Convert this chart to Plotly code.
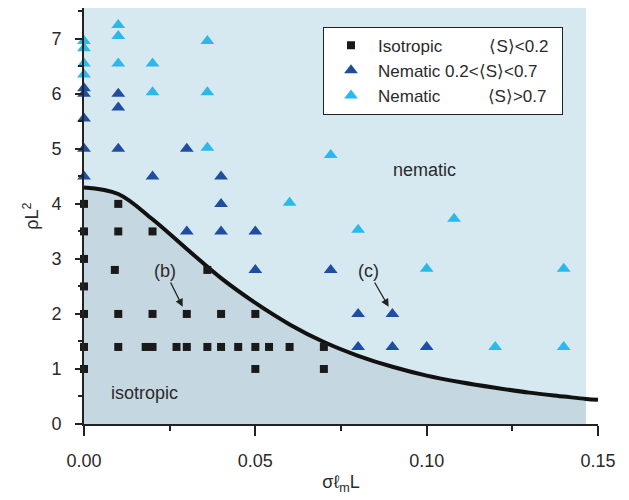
import plotly.graph_objects as go

# ---- data ----
iso_x = [0, 0, 0, 0, 0, 0, 0,
         0.01, 0.01, 0.01, 0.01, 0.009,
         0.02, 0.02, 0.02, 0.018,
         0.027, 0.03, 0.03,
         0.036, 0.036,
         0.04, 0.04, 0.045,
         0.05, 0.05, 0.05, 0.054, 0.06, 0.07, 0.07]
iso_y = [4, 3.5, 3, 2.5, 2, 1.4, 1,
         4, 3.5, 2, 1.4, 2.8,
         3.5, 2, 1.4, 1.4,
         1.4, 2, 1.4,
         2.8, 1.4,
         2, 1.4, 1.4,
         2, 1.4, 1, 1.4, 1.4, 1.4, 1]

nem_mid_x = [0, 0, 0, 0, 0,
             0.01, 0.01, 0.01,
             0.02, 0.03, 0.03,
             0.04, 0.04, 0.04,
             0.05, 0.05,
             0.072, 0.08, 0.08, 0.09, 0.09, 0.10]
nem_mid_y = [6.1, 6.0, 5.55, 5.0, 4.5,
             6.0, 5.75, 5.0,
             4.5, 5.0, 3.5,
             4.5, 4.0, 3.5,
             3.5, 2.8,
             2.8, 2.0, 1.4, 2.0, 1.4, 1.4]

nem_hi_x = [0, 0, 0, 0,
            0.01, 0.01, 0.01,
            0.02, 0.02,
            0.036, 0.036, 0.036,
            0.06, 0.072, 0.08, 0.10, 0.108, 0.12, 0.14, 0.14]
nem_hi_y = [6.96, 6.83, 6.55, 6.35,
            7.25, 7.05, 6.55,
            6.55, 6.03,
            6.96, 6.03, 5.02,
            4.02, 4.89, 3.53, 2.82, 3.73, 1.4, 2.82, 1.4]

# boundary curve
curve_x = [0, 0.01, 0.02, 0.03, 0.04, 0.05, 0.06, 0.07, 0.08,
           0.09, 0.10, 0.11, 0.12, 0.13, 0.14, 0.1465, 0.15]
curve_y = [4.3, 4.18, 3.72, 3.18, 2.65, 2.2, 1.81, 1.49, 1.24,
           1.04, 0.88, 0.76, 0.66, 0.57, 0.5, 0.455, 0.44]

x_ticks = [0, 0.05, 0.10, 0.15]
x_ticklabels = ["0.00", "0.05", "0.10", "0.15"]
y_ticks = [0, 1, 2, 3, 4, 5, 6, 7]

shade_end = 0.1465
y_top = 7.56

LIGHT = "#d6e9f1"
DARK = "#c5d7e0"
TXT = "#2a2a2a"
FONT = "Liberation Sans, Arial, sans-serif"
FS = 18
LFS = 17

fig = go.Figure()

# shaded isotropic region under curve
fx = [x for x in curve_x if x <= shade_end]
fy = [y for x, y in zip(curve_x, curve_y) if x <= shade_end]
fig.add_trace(go.Scatter(x=fx, y=fy, mode="lines", line=dict(width=0, shape="spline"),
                         fill="tozeroy", fillcolor=DARK, showlegend=False,
                         hoverinfo="skip"))
fig.add_trace(go.Scatter(x=curve_x, y=curve_y, mode="lines",
                         line=dict(color="#111111", width=4, shape="spline"),
                         showlegend=False, cliponaxis=False))

nb = "\u00a0"
fig.add_trace(go.Scatter(x=iso_x, y=iso_y, mode="markers",
                         name="Isotropic" + nb * 10 + "⟨S⟩<0.2",
                         marker=dict(symbol="square", size=8, color="#1a1a1a"),
                         cliponaxis=False))
fig.add_trace(go.Scatter(x=nem_mid_x, y=nem_mid_y, mode="markers",
                         name="Nematic 0.2<⟨S⟩<0.7" + nb * 4,
                         marker=dict(symbol="triangle-up", size=12, color="#1f4ea0"),
                         cliponaxis=False))
fig.add_trace(go.Scatter(x=nem_hi_x, y=nem_hi_y, mode="markers",
                         name="Nematic" + nb * 10 + "⟨S⟩>0.7",
                         marker=dict(symbol="triangle-up", size=12, color="#2bb8ea"),
                         cliponaxis=False))

fig.add_shape(type="rect", xref="x", yref="y", x0=0, x1=shade_end, y0=0, y1=y_top,
              fillcolor=LIGHT, line=dict(width=0), layer="below")

ann_font = dict(family=FONT, size=FS, color=TXT)
fig.add_annotation(x=0.0995, y=4.62, text="nematic", showarrow=False, font=ann_font)
fig.add_annotation(x=0.0178, y=0.56, text="isotropic", showarrow=False, font=ann_font)
fig.add_annotation(x=0.0288, y=2.13, ax=0.0236, ay=2.78, axref="x", ayref="y",
                   text="(b)", showarrow=True, arrowhead=2, arrowsize=1.2,
                   arrowwidth=1.3, arrowcolor="#222222", font=ann_font)
fig.add_annotation(x=0.0889, y=2.13, ax=0.0829, ay=2.78, axref="x", ayref="y",
                   text="(c)", showarrow=True, arrowhead=2, arrowsize=1.2,
                   arrowwidth=1.3, arrowcolor="#222222", font=ann_font)

fig.update_layout(
    width=629, height=500,
    margin=dict(l=84, r=31, t=8, b=76),
    plot_bgcolor="white", paper_bgcolor="white",
    font=dict(family=FONT, size=FS, color=TXT),
    legend=dict(x=0.465, y=0.955, xanchor="left", yanchor="top",
                bgcolor="white", bordercolor="#222222", borderwidth=1,
                font=dict(family=FONT, size=LFS, color=TXT),
                itemwidth=44, tracegroupgap=0),
    xaxis=dict(range=[0, 0.15], tickvals=x_ticks, ticktext=x_ticklabels,
               ticks="outside", ticklen=10, tickwidth=1.5, tickcolor="#222222",
               showline=True, linecolor="#222222", linewidth=2,
               showgrid=False, zeroline=False,
               minor=dict(dtick=0.025, ticks="outside", ticklen=5,
                          tickcolor="#222222", tickwidth=1.5),
               ticklabelstandoff=9,
               title=dict(text="σℓ<sub>m</sub>L", font=dict(size=FS), standoff=6)),
    yaxis=dict(range=[0, y_top], tickvals=y_ticks,
               ticks="outside", ticklen=7, tickwidth=1.5, tickcolor="#222222",
               showline=True, linecolor="#222222", linewidth=2,
               showgrid=False, zeroline=False,
               minor=dict(dtick=0.5, ticks="outside", ticklen=4,
                          tickcolor="#222222", tickwidth=1.5),
               ticklabelstandoff=10,
               title=dict(text="ρL<sup>2</sup>", font=dict(size=FS), standoff=8)),
)

fig.write_html("out.html")
